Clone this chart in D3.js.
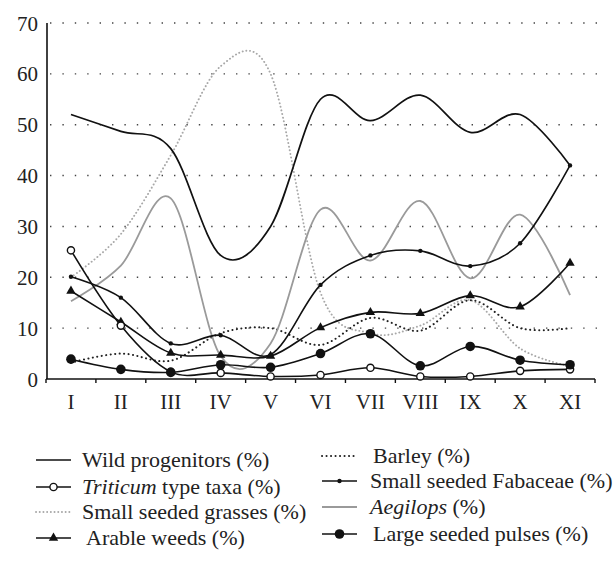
<!DOCTYPE html>
<html><head><meta charset="utf-8">
<script src="https://cdn.jsdelivr.net/npm/d3@7"></script>
<style>
html,body{margin:0;padding:0;background:#fff;}
svg{display:block;}
svg text{font-family:"Liberation Serif","DejaVu Serif",serif;}
</style></head>
<body><svg id="c" width="616" height="563"></svg>
<script>
const categories = ["I","II","III","IV","V","VI","VII","VIII","IX","X","XI"];
const yTicks = [0,10,20,30,40,50,60,70];
const wildProgenitors = [52, 48.7, 45.3, 24.3, 30, 55, 50.8, 55.8, 48.5, 52, 42];
const triticum = [25.3, 10.5, 1.4, 1.2, 0.5, 0.8, 2.2, 0.5, 0.5, 1.6, 1.9];
const smallGrasses = [20, 28.5, 44, 61.5, 60, 17, 9, 10.5, 15.5, 6, 2.5];
const arableWeeds = [17.3, 11.2, 5.1, 4.7, 4.5, 10.1, 13.1, 12.9, 16.4, 14.2, 22.8];
const barley = [3.2, 5, 3.6, 9, 10, 6.7, 12, 9.5, 15.5, 10, 10];
const fabaceae = [20.1, 16, 7, 8.6, 4.8, 18.5, 24.3, 25.2, 22.2, 26.7, 42];
const aegilops = [15.3, 22.3, 35.5, 4.5, 7, 33.3, 23.3, 35, 19.8, 32.3, 16.5];
const largePulses = [3.9, 1.9, 1.3, 2.8, 2.3, 5.0, 8.9, 2.6, 6.4, 3.7, 2.8];

const FONT = "Liberation Serif, DejaVu Serif, serif";
const series = [
  {name:"Small seeded grasses (%)", values:smallGrasses, stroke:"#a8a8a8", dash:"0.1,3.6", width:1.9, marker:null},
  {name:"Barley (%)", values:barley, stroke:"#222", dash:"0.1,4.4", width:2, marker:null},
  {name:"Aegilops (%)", values:aegilops, stroke:"#9a9a9a", dash:null, width:1.8, marker:null},
  {name:"Wild progenitors (%)", values:wildProgenitors, stroke:"#111", dash:null, width:1.7, marker:null},
  {name:"Small seeded Fabaceae (%)", values:fabaceae, stroke:"#111", dash:null, width:1.6, marker:"dot"},
  {name:"Arable weeds (%)", values:arableWeeds, stroke:"#111", dash:null, width:1.6, marker:"tri"},
  {name:"Triticum type taxa (%)", values:triticum, stroke:"#111", dash:null, width:1.6, marker:"open"},
  {name:"Large seeded pulses (%)", values:largePulses, stroke:"#111", dash:null, width:1.6, marker:"big"}
];

const svg = d3.select("#c");
const x = d3.scaleBand().domain(categories).range([46, 595]);
const y = d3.scaleLinear().domain([0,70]).range([379, 23]);
const cx = c => x(c) + x.bandwidth()/2;

// gridlines
svg.append("g").selectAll("line").data(yTicks.filter(d=>d>0)).join("line")
  .attr("x1", 50).attr("x2", 599).attr("y1", d=>y(d)).attr("y2", d=>y(d))
  .attr("stroke", "#444").attr("stroke-width", 1.4).attr("stroke-dasharray", "1.4,11");

// y axis
const yAxis = d3.axisLeft(y).tickValues(yTicks).tickSize(0).tickPadding(9).tickFormat(d3.format("d"));
const gy = svg.append("g").attr("transform", "translate(47,0)").call(yAxis).attr("font-family", FONT);
gy.select(".domain").attr("stroke","#111").attr("stroke-width",1.6).attr("d", `M0,${y(0)}V${y(70)}`);
gy.selectAll("text").attr("font-size", 21).attr("fill","#222").attr("font-family",FONT).attr("dy","0.34em");

// x axis
const xAxis = d3.axisBottom(x).tickSize(0).tickPadding(15);
const gx = svg.append("g").attr("transform", `translate(0,${y(0)})`).call(xAxis).attr("font-family", FONT);
gx.select(".domain").attr("stroke","#111").attr("stroke-width",1.6).attr("d", `M46,0H595`);
gx.selectAll("text").attr("font-size", 21).attr("fill","#222").attr("font-family",FONT).attr("dy","0.72em");
const bounds = categories.map(c => x(c)).concat([x(categories[categories.length-1]) + x.bandwidth()]);
gx.append("g").selectAll("line").data(bounds).join("line")
  .attr("x1", d=>d).attr("x2", d=>d).attr("y1", 0).attr("y2", 4)
  .attr("stroke","#111").attr("stroke-width",1.4);

const line = d3.line().x((d,i)=>cx(categories[i])).y(d=>y(d)).curve(d3.curveCardinal.tension(0));

function drawMarker(g, type, px, py) {
  if (type === "dot") g.append("circle").attr("cx",px).attr("cy",py).attr("r",2.2).attr("fill","#111");
  else if (type === "open") g.append("circle").attr("cx",px).attr("cy",py).attr("r",3.6).attr("fill","#fff").attr("stroke","#111").attr("stroke-width",1.4);
  else if (type === "big") g.append("circle").attr("cx",px).attr("cy",py).attr("r",4.8).attr("fill","#111");
  else if (type === "tri") g.append("path").attr("d", d3.symbol(d3.symbolTriangle, 38)()).attr("transform",`translate(${px},${py})`).attr("fill","#111");
}

const plot = svg.append("g");
series.forEach(s => {
  plot.append("path").datum(s.values).attr("d", line).attr("fill","none")
    .attr("stroke", s.stroke).attr("stroke-width", s.width)
    .attr("stroke-dasharray", s.dash).attr("stroke-linecap", s.dash ? "round" : "butt");
});
series.forEach(s => {
  if (!s.marker) return;
  const g = plot.append("g");
  s.values.forEach((v,i) => drawMarker(g, s.marker, cx(categories[i]), y(v)));
});

// legend
const legendItems = [
  {s:"Wild progenitors (%)", col:0, ty:460},
  {s:"Triticum type taxa (%)", col:0, ty:487, ital:"Triticum", rest:" type taxa (%)"},
  {s:"Small seeded grasses (%)", col:0, ty:512},
  {s:"Arable weeds (%)", col:0, ty:538, tx:86},
  {s:"Barley (%)", col:1, ty:456, tx:373},
  {s:"Small seeded Fabaceae (%)", col:1, ty:481},
  {s:"Aegilops (%)", col:1, ty:507, ital:"Aegilops", rest:" (%)"},
  {s:"Large seeded pulses (%)", col:1, ty:534, tx:373}
];
const lg = svg.append("g").attr("font-family", FONT);
legendItems.forEach(it => {
  const s = series.find(d => d.name === it.s);
  const x0 = it.col === 0 ? 36 : 322, x1 = x0 + 35;
  const yy = it.ty;
  lg.append("line").attr("x1",x0).attr("x2",x1).attr("y1",yy).attr("y2",yy)
    .attr("stroke", s.stroke).attr("stroke-width", s.width).attr("stroke-dasharray", s.dash)
    .attr("stroke-linecap", s.dash ? "round" : "butt");
  if (s.marker) drawMarker(lg, s.marker, (x0+x1)/2, yy);
  const t = lg.append("text").attr("x", it.tx || (it.col===0 ? 82 : 370)).attr("y", yy).attr("dy","0.33em")
    .attr("font-size", 22).attr("fill","#222").attr("font-family", FONT);
  if (it.ital) { t.append("tspan").attr("font-style","italic").text(it.ital); t.append("tspan").text(it.rest); }
  else t.text(it.s);
});
</script></body></html>
